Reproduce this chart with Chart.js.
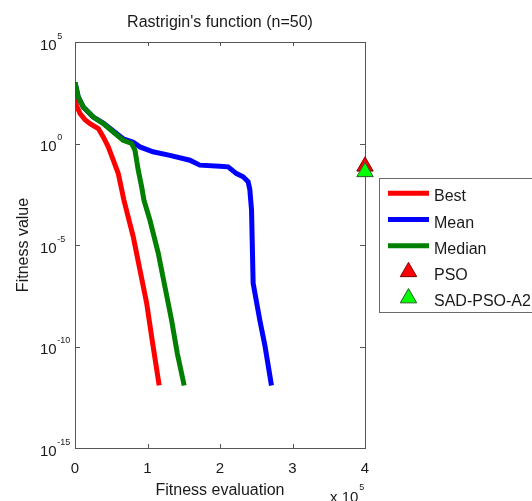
<!DOCTYPE html>
<html>
<head>
<meta charset="utf-8">
<script src="https://cdn.jsdelivr.net/npm/chart.js@4.4.1/dist/chart.umd.min.js"></script>
<style>
html, body { margin: 0; padding: 0; background: #fff; }
#wrap { width: 532px; height: 501px; position: relative; }
</style>
</head>
<body>
<div id="wrap"><canvas id="fitnessChart"></canvas></div>
<script>
// convergence curves, x = fitness evaluations
const bestEvals = [0, 2000, 6900, 13800, 20700, 32100, 39000, 45900, 52800, 59700, 67500, 80300, 89600, 98800, 105700, 116100];
const bestFitness = [160, 75, 30, 15, 9.5, 5.5, 2.1, 0.68, 0.15, 0.033, 1.6e-3, 2.6e-5, 5.9e-7, 1.4e-8, 3.1e-10, 1.2e-12];

const meanEvals = [0, 4500, 11400, 25200, 39000, 52800, 66500, 80300, 89600, 107500, 130900, 158400, 172200, 199800, 211200, 222800, 231900, 238800, 241100, 243500, 245700, 254900, 261800, 271000];
const meanFitness = [1000, 195, 63, 20, 10.3, 4.1, 1.7, 1.15, 0.68, 0.39, 0.26, 0.15, 0.086, 0.076, 0.071, 0.033, 0.023, 0.013, 5.5e-3, 5.2e-4, 1.3e-7, 2e-9, 1.2e-10, 1.2e-12];

const medianEvals = [0, 4500, 11400, 25200, 39000, 52800, 66500, 78100, 82700, 87200, 91900, 95100, 103300, 114800, 124000, 133200, 141000, 150600];
const medianFitness = [1000, 195, 63, 20, 9.6, 3.7, 1.45, 1.0, 0.47, 0.049, 7.4e-3, 1.6e-3, 1.7e-4, 4.0e-6, 8.9e-8, 2.0e-9, 4.8e-11, 1.2e-12];

// final results of the reference algorithms
const markerEval = 400000;
const psoFitness = 0.075;
const sadPsoFitness = 0.04;

const xTicks = [0, 1, 2, 3, 4];          // in units of 10^5
const yTickExponents = [5, 0, -5, -10, -15];

const fontFamily = '"Liberation Sans", Arial, Helvetica, sans-serif';
const textColor = '#1a1a1a';
const axisColor = '#555555';

function toPoints(xs, ys) {
    return xs.map((x, i) => ({ x: x, y: ys[i] }));
}

function triangle(ctx, x, y, r) {
    // same geometry as Chart.js 'triangle' point style
    ctx.beginPath();
    ctx.moveTo(x, y - r);
    ctx.lineTo(x + r * Math.sin(2 * Math.PI / 3), y - r * Math.cos(2 * Math.PI / 3));
    ctx.lineTo(x + r * Math.sin(4 * Math.PI / 3), y - r * Math.cos(4 * Math.PI / 3));
    ctx.closePath();
}

// box, inward ticks and labels in the old matlab look
const frame = {
    id: 'frame',
    beforeDatasetsDraw(chart) {
        const ctx = chart.ctx;
        const a = chart.chartArea;
        const xs = chart.scales.x;
        const ys = chart.scales.y;
        ctx.save();
        ctx.strokeStyle = axisColor;
        ctx.lineWidth = 1;
        ctx.strokeRect(Math.round(a.left) + 0.5, Math.round(a.top) + 0.5,
            Math.round(a.right - a.left), Math.round(a.bottom - a.top));

        ctx.beginPath();
        xTicks.forEach(t => {
            const px = Math.round(xs.getPixelForValue(t * 1e5)) + 0.5;
            ctx.moveTo(px, a.bottom); ctx.lineTo(px, a.bottom - 4);
            ctx.moveTo(px, a.top); ctx.lineTo(px, a.top + 4);
        });
        yTickExponents.forEach(e => {
            const py = Math.round(ys.getPixelForValue(Math.pow(10, e))) + 0.5;
            ctx.moveTo(a.left, py); ctx.lineTo(a.left + 5, py);
            ctx.moveTo(a.right, py); ctx.lineTo(a.right - 5, py);
        });
        ctx.stroke();

        ctx.fillStyle = textColor;
        ctx.textAlign = 'center';
        ctx.textBaseline = 'alphabetic';
        ctx.font = '15px ' + fontFamily;
        xTicks.forEach(t => {
            ctx.fillText(String(t), xs.getPixelForValue(t * 1e5), a.bottom + 24.5);
        });

        ctx.textAlign = 'left';
        yTickExponents.forEach(e => {
            const py = ys.getPixelForValue(Math.pow(10, e));
            ctx.font = '15px ' + fontFamily;
            ctx.fillText('10', 40, py + 7.5);
            const w = ctx.measureText('10').width;
            ctx.font = '9px ' + fontFamily;
            ctx.fillText(String(e), 40 + w + 0.5, py - 3.5);
        });

        // x 10^5 multiplier
        ctx.font = '15px ' + fontFamily;
        ctx.fillText('x 10', 330, 502);
        const mw = ctx.measureText('x 10').width;
        ctx.font = '9px ' + fontFamily;
        ctx.fillText('5', 330 + mw + 1, 490);

        ctx.font = '16px ' + fontFamily;
        ctx.textAlign = 'center';
        const cx = (a.left + a.right) / 2;
        ctx.fillText("Rastrigin's function (n=50)", cx, 27);
        ctx.fillText('Fitness evaluation', cx, 495);

        ctx.translate(28, (a.top + a.bottom) / 2);
        ctx.rotate(-Math.PI / 2);
        ctx.fillText('Fitness value', 0, 0);
        ctx.restore();
    },
    afterDraw(chart) {
        const ctx = chart.ctx;
        const sets = chart.data.datasets;
        ctx.save();
        ctx.fillStyle = '#ffffff';
        ctx.strokeStyle = '#6a6a6a';
        ctx.lineWidth = 1;
        ctx.fillRect(379.5, 178.5, 170, 134);
        ctx.strokeRect(379.5, 178.5, 170, 134);

        ctx.font = '16px ' + fontFamily;
        ctx.textAlign = 'left';
        ctx.textBaseline = 'alphabetic';
        sets.forEach((ds, i) => {
            const y = 193.3 + i * 26.2;
            if (ds.showLine === false) {
                ctx.fillStyle = ds.pointBackgroundColor;
                ctx.strokeStyle = ds.pointBorderColor;
                ctx.lineWidth = 1;
                triangle(ctx, 408.5, y, ds.pointRadius);
                ctx.fill();
                ctx.stroke();
            } else {
                ctx.strokeStyle = ds.borderColor;
                ctx.lineWidth = ds.borderWidth;
                ctx.beginPath();
                ctx.moveTo(388, y);
                ctx.lineTo(429, y);
                ctx.stroke();
            }
            ctx.fillStyle = textColor;
            ctx.fillText(ds.label, 434, y + 8);
        });
        ctx.restore();
    }
};

const lineStyle = {
    borderWidth: 5,
    pointRadius: 0,
    tension: 0,
    fill: false
};

const config = {
    type: 'line',
    data: {
        datasets: [
            Object.assign({ label: 'Best', data: toPoints(bestEvals, bestFitness),
                borderColor: '#ff0000', order: 3 }, lineStyle),
            Object.assign({ label: 'Mean', data: toPoints(meanEvals, meanFitness),
                borderColor: '#0000ff', order: 2 }, lineStyle),
            Object.assign({ label: 'Median', data: toPoints(medianEvals, medianFitness),
                borderColor: '#007f00', order: 1 }, lineStyle),
            {
                label: 'PSO',
                data: [{ x: markerEval, y: psoFitness }],
                showLine: false,
                pointStyle: 'triangle',
                pointRadius: 9.5,
                pointBackgroundColor: '#ff0000',
                pointBorderColor: '#7a0000',
                pointBorderWidth: 1,
                clip: false,
                order: 0
            },
            {
                label: 'SAD-PSO-A2',
                data: [{ x: markerEval, y: sadPsoFitness }],
                showLine: false,
                pointStyle: 'triangle',
                pointRadius: 9.5,
                pointBackgroundColor: '#00ff00',
                pointBorderColor: '#2a5a2a',
                pointBorderWidth: 1,
                clip: false,
                order: -1
            }
        ]
    },
    options: {
        responsive: true,
        maintainAspectRatio: false,
        animation: false,
        events: [],
        layout: {
            autoPadding: false,
            padding: { left: 75, top: 42, right: 167, bottom: 53 }
        },
        scales: {
            x: { type: 'linear', display: false, min: 0, max: 400000 },
            y: { type: 'logarithmic', display: false, min: 1e-15, max: 1e5 }
        },
        plugins: {
            legend: { display: false },
            tooltip: { enabled: false }
        }
    },
    plugins: [frame]
};

new Chart(document.getElementById('fitnessChart'), config);
</script>
</body>
</html>
